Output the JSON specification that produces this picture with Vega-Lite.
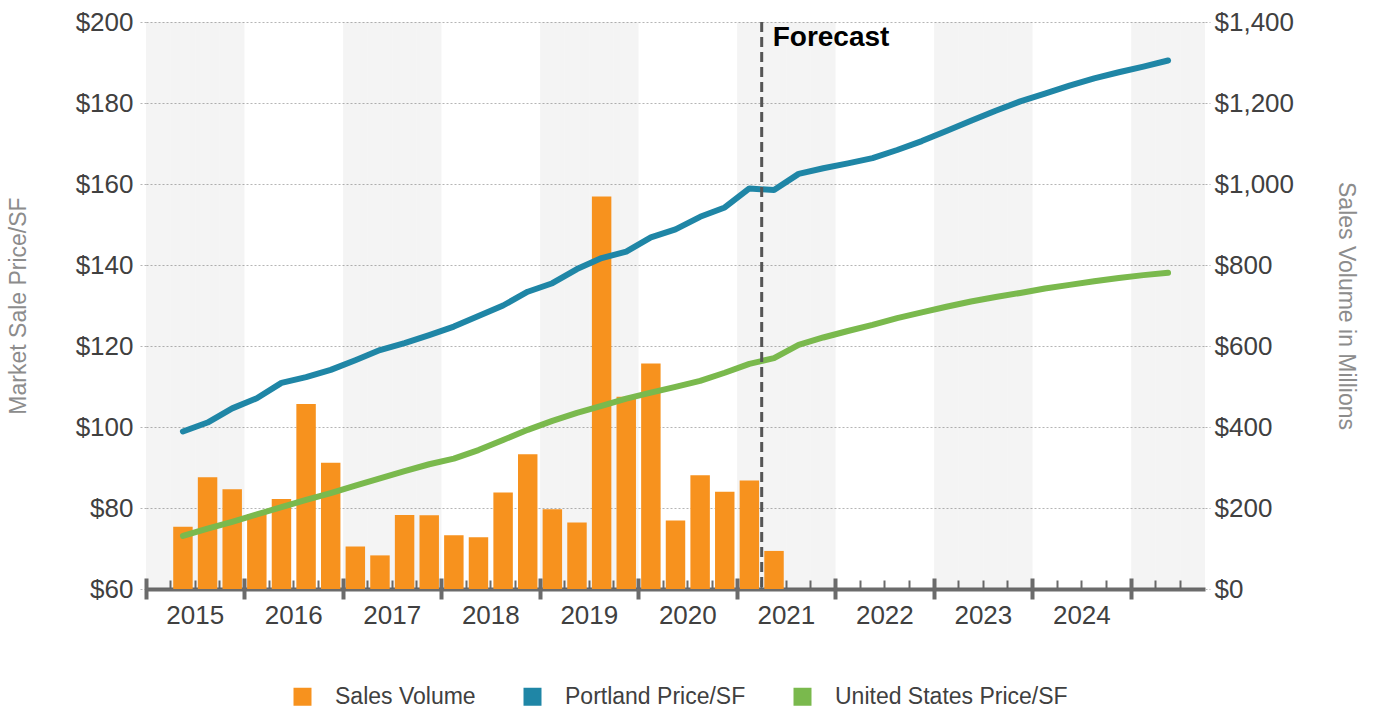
{
  "$schema": "https://vega.github.io/schema/vega-lite/v6.json",
  "width": 1059,
  "height": 567,
  "autosize": {"type": "none"},
  "padding": {"left": 146, "top": 22, "right": 168, "bottom": 120},
  "background": "white",
  "config": {
    "view": {"stroke": null},
    "font": "Liberation Sans",
    "axis": {"labelFont": "Liberation Sans", "titleFont": "Liberation Sans"},
    "legend": {"labelFont": "Liberation Sans"}
  },
  "datasets": {
    "quarters": [
      {"q": "2014 Q4", "vol": null, "pdx": null, "us": null},
      {"q": "2015 Q1", "vol": 154, "pdx": 98.9, "us": 73.1},
      {"q": "2015 Q2", "vol": 276, "pdx": 101.1, "us": 74.9},
      {"q": "2015 Q3", "vol": 246, "pdx": 104.6, "us": 76.6},
      {"q": "2015 Q4", "vol": 185, "pdx": 107.1, "us": 78.4},
      {"q": "2016 Q1", "vol": 222, "pdx": 110.9, "us": 80.2},
      {"q": "2016 Q2", "vol": 457, "pdx": 112.3, "us": 82.0},
      {"q": "2016 Q3", "vol": 312, "pdx": 114.1, "us": 83.7},
      {"q": "2016 Q4", "vol": 105, "pdx": 116.5, "us": 85.5},
      {"q": "2017 Q1", "vol": 83, "pdx": 119.0, "us": 87.3},
      {"q": "2017 Q2", "vol": 183, "pdx": 120.7, "us": 89.1},
      {"q": "2017 Q3", "vol": 182, "pdx": 122.7, "us": 90.8},
      {"q": "2017 Q4", "vol": 133, "pdx": 124.8, "us": 92.2},
      {"q": "2018 Q1", "vol": 128, "pdx": 127.4, "us": 94.3},
      {"q": "2018 Q2", "vol": 238, "pdx": 130.0, "us": 96.8},
      {"q": "2018 Q3", "vol": 333, "pdx": 133.4, "us": 99.3},
      {"q": "2018 Q4", "vol": 197, "pdx": 135.5, "us": 101.5},
      {"q": "2019 Q1", "vol": 164, "pdx": 139.0, "us": 103.5},
      {"q": "2019 Q2", "vol": 969, "pdx": 141.7, "us": 105.2},
      {"q": "2019 Q3", "vol": 475, "pdx": 143.3, "us": 107.0},
      {"q": "2019 Q4", "vol": 557, "pdx": 146.8, "us": 108.5},
      {"q": "2020 Q1", "vol": 169, "pdx": 148.8, "us": 109.9},
      {"q": "2020 Q2", "vol": 281, "pdx": 151.9, "us": 111.4},
      {"q": "2020 Q3", "vol": 240, "pdx": 154.2, "us": 113.4},
      {"q": "2020 Q4", "vol": 268, "pdx": 158.9, "us": 115.6},
      {"q": "2021 Q1", "vol": 94, "pdx": 158.5, "us": 117.0},
      {"q": "2021 Q2", "vol": null, "pdx": 162.5, "us": 120.3},
      {"q": "2021 Q3", "vol": null, "pdx": 163.9, "us": 122.1},
      {"q": "2021 Q4", "vol": null, "pdx": 165.1, "us": 123.7},
      {"q": "2022 Q1", "vol": null, "pdx": 166.4, "us": 125.2},
      {"q": "2022 Q2", "vol": null, "pdx": 168.4, "us": 126.9},
      {"q": "2022 Q3", "vol": null, "pdx": 170.6, "us": 128.3},
      {"q": "2022 Q4", "vol": null, "pdx": 173.1, "us": 129.7},
      {"q": "2023 Q1", "vol": null, "pdx": 175.6, "us": 131.0},
      {"q": "2023 Q2", "vol": null, "pdx": 178.1, "us": 132.1},
      {"q": "2023 Q3", "vol": null, "pdx": 180.4, "us": 133.1},
      {"q": "2023 Q4", "vol": null, "pdx": 182.3, "us": 134.2},
      {"q": "2024 Q1", "vol": null, "pdx": 184.3, "us": 135.1},
      {"q": "2024 Q2", "vol": null, "pdx": 186.1, "us": 136.0},
      {"q": "2024 Q3", "vol": null, "pdx": 187.6, "us": 136.8},
      {"q": "2024 Q4", "vol": null, "pdx": 189.0, "us": 137.5},
      {"q": "2025 Q1", "vol": null, "pdx": 190.5, "us": 138.1},
      {"q": "2025 Q2", "vol": null, "pdx": null, "us": null}
    ]
  },
  "data": {"name": "quarters"},
  "layer": [
    {
      "transform": [{"filter": "(toNumber(slice(datum.q, 0, 4)) + (slice(datum.q, 5) == 'Q4' ? 1 : 0)) % 2 == 1"}],
      "mark": {"type": "rect", "fill": "#000000", "fillOpacity": 0.042},
      "encoding": {
        "x": {
          "field": "q", "type": "ordinal", "sort": null,
          "scale": {"type": "band", "paddingInner": 0, "paddingOuter": 0,
            "domain": ["2014 Q4","2015 Q1","2015 Q2","2015 Q3","2015 Q4","2016 Q1","2016 Q2","2016 Q3","2016 Q4","2017 Q1","2017 Q2","2017 Q3","2017 Q4","2018 Q1","2018 Q2","2018 Q3","2018 Q4","2019 Q1","2019 Q2","2019 Q3","2019 Q4","2020 Q1","2020 Q2","2020 Q3","2020 Q4","2021 Q1","2021 Q2","2021 Q3","2021 Q4","2022 Q1","2022 Q2","2022 Q3","2022 Q4","2023 Q1","2023 Q2","2023 Q3","2023 Q4","2024 Q1","2024 Q2","2024 Q3","2024 Q4","2025 Q1","2025 Q2"]},
          "axis": {
            "orient": "bottom",
            "values": ["2014 Q4","2015 Q4","2016 Q4","2017 Q4","2018 Q4","2019 Q4","2020 Q4","2021 Q4","2022 Q4","2023 Q4","2024 Q4"],
            "bandPosition": 0, "domain": false, "labels": false, "grid": false,
            "ticks": true, "tickSize": 21, "tickWidth": 4, "tickColor": "#6b6b6b",
            "offset": -11, "title": null
          }
        }
      }
    },
    {
      "mark": {"type": "bar", "width": {"band": 0.79}},
      "encoding": {
        "x": {
          "field": "q", "type": "ordinal", "sort": null,
          "scale": {"type": "band", "paddingInner": 0, "paddingOuter": 0,
            "domain": ["2014 Q4","2015 Q1","2015 Q2","2015 Q3","2015 Q4","2016 Q1","2016 Q2","2016 Q3","2016 Q4","2017 Q1","2017 Q2","2017 Q3","2017 Q4","2018 Q1","2018 Q2","2018 Q3","2018 Q4","2019 Q1","2019 Q2","2019 Q3","2019 Q4","2020 Q1","2020 Q2","2020 Q3","2020 Q4","2021 Q1","2021 Q2","2021 Q3","2021 Q4","2022 Q1","2022 Q2","2022 Q3","2022 Q4","2023 Q1","2023 Q2","2023 Q3","2023 Q4","2024 Q1","2024 Q2","2024 Q3","2024 Q4","2025 Q1","2025 Q2"]},
          "axis": {
            "orient": "bottom",
            "bandPosition": 0, "domain": true, "domainColor": "#6b6b6b", "domainWidth": 4,
            "ticks": true, "tickSize": -9, "tickWidth": 2, "tickColor": "#6b6b6b",
            "grid": false, "labelOverlap": false, "labelAngle": 0,
            "labelExpr": "(slice(datum.value, 5) == 'Q2' && slice(datum.value, 0, 4) != '2025') ? slice(datum.value, 0, 4) : ''",
            "labelFontSize": 26, "labelColor": "#404040", "labelPadding": 22, "labelOffset": -12.3,
            "labelAlign": "center", "labelBaseline": "top", "title": null
          }
        },
        "y": {
          "field": "vol", "type": "quantitative",
          "scale": {"domain": [0, 1400], "nice": false},
          "axis": {
            "orient": "right", "values": [0, 200, 400, 600, 800, 1000, 1200, 1400],
            "format": "$,.0f", "grid": false, "domain": false,
            "ticks": true, "tickSize": 5, "tickColor": "#b5b5b5", "tickDash": [2, 2],
            "labelFontSize": 26, "labelColor": "#404040", "labelPadding": 4,
            "title": "Sales Volume in Millions", "titleFontSize": 23,
            "titleFontWeight": "normal", "titleColor": "#8c8c8c", "titlePadding": 40
          }
        },
        "color": {
          "datum": "Sales Volume",
          "scale": {"domain": ["Sales Volume", "Portland Price/SF", "United States Price/SF"],
                    "range": ["#F7921E", "#1F86A6", "#7AB94D"]},
          "legend": {
            "orient": "none", "direction": "horizontal", "legendX": 145, "legendY": 663,
            "title": null, "symbolType": "square", "symbolSize": 324, "symbolStrokeWidth": 0,
            "labelFontSize": 23, "labelColor": "#404040", "labelOffset": 21, "labelLimit": 0,
            "columnPadding": 45, "padding": 0,
            "encode": {"symbols": {"update": {"fill": {"scale": "color", "field": "value"}, "stroke": {"value": "transparent"}, "opacity": {"value": 1}}}}
          }
        }
      }
    },
    {
      "layer": [
        {
          "mark": {"type": "line", "strokeWidth": 6, "strokeCap": "round", "strokeJoin": "round"},
          "encoding": {
            "x": {"field": "q", "type": "ordinal", "sort": null,
              "scale": {"type": "band", "paddingInner": 0, "paddingOuter": 0,
                "domain": ["2014 Q4","2015 Q1","2015 Q2","2015 Q3","2015 Q4","2016 Q1","2016 Q2","2016 Q3","2016 Q4","2017 Q1","2017 Q2","2017 Q3","2017 Q4","2018 Q1","2018 Q2","2018 Q3","2018 Q4","2019 Q1","2019 Q2","2019 Q3","2019 Q4","2020 Q1","2020 Q2","2020 Q3","2020 Q4","2021 Q1","2021 Q2","2021 Q3","2021 Q4","2022 Q1","2022 Q2","2022 Q3","2022 Q4","2023 Q1","2023 Q2","2023 Q3","2023 Q4","2024 Q1","2024 Q2","2024 Q3","2024 Q4","2025 Q1","2025 Q2"]},
              "axis": null},
            "y": {
              "field": "pdx", "type": "quantitative",
              "scale": {"domain": [60, 200], "nice": false},
              "axis": {
                "orient": "left", "values": [60, 80, 100, 120, 140, 160, 180, 200],
                "format": "$,.0f", "grid": true, "gridColor": "#b5b5b5", "gridDash": [2, 2], "gridWidth": 1,
                "domain": false, "ticks": true, "tickSize": 6, "tickColor": "#b5b5b5", "tickDash": [2, 2],
                "labelFontSize": 26, "labelColor": "#404040", "labelPadding": 7,
                "title": "Market Sale Price/SF", "titleFontSize": 23,
                "titleFontWeight": "normal", "titleColor": "#8c8c8c", "titlePadding": 45
              }
            },
            "color": {"datum": "Portland Price/SF"}
          }
        },
        {
          "mark": {"type": "line", "strokeWidth": 6, "strokeCap": "round", "strokeJoin": "round"},
          "encoding": {
            "x": {"field": "q", "type": "ordinal", "sort": null,
              "scale": {"type": "band", "paddingInner": 0, "paddingOuter": 0,
                "domain": ["2014 Q4","2015 Q1","2015 Q2","2015 Q3","2015 Q4","2016 Q1","2016 Q2","2016 Q3","2016 Q4","2017 Q1","2017 Q2","2017 Q3","2017 Q4","2018 Q1","2018 Q2","2018 Q3","2018 Q4","2019 Q1","2019 Q2","2019 Q3","2019 Q4","2020 Q1","2020 Q2","2020 Q3","2020 Q4","2021 Q1","2021 Q2","2021 Q3","2021 Q4","2022 Q1","2022 Q2","2022 Q3","2022 Q4","2023 Q1","2023 Q2","2023 Q3","2023 Q4","2024 Q1","2024 Q2","2024 Q3","2024 Q4","2025 Q1","2025 Q2"]},
              "axis": null},
            "y": {"field": "us", "type": "quantitative"},
            "color": {"datum": "United States Price/SF"}
          }
        },
        {
          "transform": [{"filter": "datum.q == '2021 Q1'"}],
          "mark": {"type": "text", "text": "Forecast", "align": "left", "baseline": "top",
                   "dx": 11, "dy": 2, "font": "Liberation Sans", "fontSize": 28, "fontWeight": "bold", "fill": "#000000"},
          "encoding": {
            "x": {"field": "q", "type": "ordinal", "sort": null, "bandPosition": 0,
              "scale": {"type": "band", "paddingInner": 0, "paddingOuter": 0,
                "domain": ["2014 Q4","2015 Q1","2015 Q2","2015 Q3","2015 Q4","2016 Q1","2016 Q2","2016 Q3","2016 Q4","2017 Q1","2017 Q2","2017 Q3","2017 Q4","2018 Q1","2018 Q2","2018 Q3","2018 Q4","2019 Q1","2019 Q2","2019 Q3","2019 Q4","2020 Q1","2020 Q2","2020 Q3","2020 Q4","2021 Q1","2021 Q2","2021 Q3","2021 Q4","2022 Q1","2022 Q2","2022 Q3","2022 Q4","2023 Q1","2023 Q2","2023 Q3","2023 Q4","2024 Q1","2024 Q2","2024 Q3","2024 Q4","2025 Q1","2025 Q2"]},
              "axis": null},
            "y": {"datum": 200, "type": "quantitative"}
          }
        }
      ]
    },
    {
      "transform": [{"filter": "datum.q == '2021 Q1'"}],
      "mark": {"type": "rule", "stroke": "#555555", "strokeWidth": 3, "strokeDash": [10, 5]},
      "encoding": {
        "x": {"field": "q", "type": "ordinal", "sort": null, "bandPosition": 0,
          "scale": {"type": "band", "paddingInner": 0, "paddingOuter": 0,
            "domain": ["2014 Q4","2015 Q1","2015 Q2","2015 Q3","2015 Q4","2016 Q1","2016 Q2","2016 Q3","2016 Q4","2017 Q1","2017 Q2","2017 Q3","2017 Q4","2018 Q1","2018 Q2","2018 Q3","2018 Q4","2019 Q1","2019 Q2","2019 Q3","2019 Q4","2020 Q1","2020 Q2","2020 Q3","2020 Q4","2021 Q1","2021 Q2","2021 Q3","2021 Q4","2022 Q1","2022 Q2","2022 Q3","2022 Q4","2023 Q1","2023 Q2","2023 Q3","2023 Q4","2024 Q1","2024 Q2","2024 Q3","2024 Q4","2025 Q1","2025 Q2"]},
          "axis": null}
      }
    }
  ],
  "resolve": {"scale": {"y": "independent"}, "axis": {"x": "independent", "y": "independent"}}
}
